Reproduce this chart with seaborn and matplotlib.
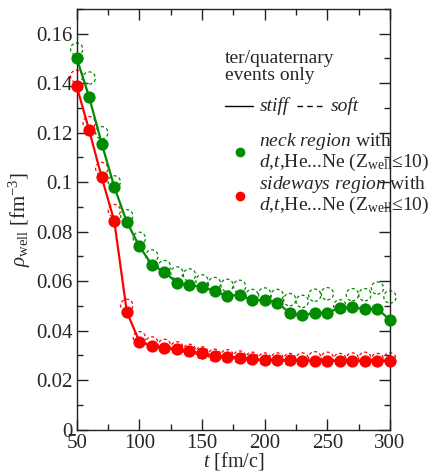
import numpy as np
import pandas as pd
import matplotlib
matplotlib.use("Agg")
import matplotlib.pyplot as plt
import seaborn as sns

# time steps [fm/c]
t = list(range(50, 301, 10))

# well density, neck region (stiff / soft)
neck_stiff = [0.1502, 0.1343, 0.1156, 0.0981, 0.0839, 0.0741, 0.0666, 0.0637, 0.0593, 0.0583,
              0.0577, 0.0559, 0.0540, 0.0545, 0.0522, 0.0524, 0.0512, 0.0472, 0.0461, 0.0472,
              0.0472, 0.0492, 0.0496, 0.0486, 0.0489, 0.0442]
neck_soft = [0.1538, 0.1421, 0.1200, 0.1001, 0.0864, 0.0773, 0.0702, 0.0659, 0.0633, 0.0625,
             0.0601, 0.0590, 0.0583, 0.0579, 0.0542, 0.0548, 0.0542, 0.0525, 0.0518, 0.0543,
             0.0549, 0.0500, 0.0545, 0.0545, 0.0572, 0.0536]

# well density, sideways region (stiff / soft)
side_stiff = [0.1388, 0.1209, 0.1019, 0.0843, 0.0476, 0.0355, 0.0339, 0.0328, 0.0324, 0.0317,
              0.0308, 0.0299, 0.0295, 0.0291, 0.0285, 0.0281, 0.0281, 0.0280, 0.0279, 0.0278,
              0.0278, 0.0277, 0.0277, 0.0277, 0.0278, 0.0277]
side_soft = [0.1428, 0.1240, 0.1055, 0.0885, 0.0502, 0.0371, 0.0350, 0.0340, 0.0330, 0.0320,
             0.0310, 0.0300, 0.0298, 0.0293, 0.0288, 0.0285, 0.0285, 0.0283, 0.0285, 0.0290,
             0.0288, 0.0283, 0.0285, 0.0288, 0.0283, 0.0285]

x_ticks = [50, 100, 150, 200, 250, 300]
y_ticks = [0, 0.02, 0.04, 0.06, 0.08, 0.1, 0.12, 0.14, 0.16]
y_tick_labels = ["0", "0.02", "0.04", "0.06", "0.08", "0.1", "0.12", "0.14", "0.16"]

GREEN = "#008b00"
RED = "#ff0000"

sns.set_style("ticks")
plt.rcParams["font.family"] = ["Liberation Serif", "DejaVu Serif"]
plt.rcParams["mathtext.fontset"] = "custom"
plt.rcParams["mathtext.rm"] = "Liberation Serif"
plt.rcParams["mathtext.it"] = "Liberation Serif:italic"
plt.rcParams["mathtext.bf"] = "Liberation Serif:bold"

df = pd.DataFrame({"t": t, "neck_stiff": neck_stiff, "neck_soft": neck_soft,
                   "side_stiff": side_stiff, "side_soft": side_soft})

fig = plt.figure(figsize=(4.44, 4.72), dpi=100)
ax = fig.add_axes([0.1727, 0.0900, 0.7056, 0.8909])

# soft EoS: dashed open circles
for col, c in [("neck_soft", GREEN), ("side_soft", RED)]:
    sns.scatterplot(data=df, x="t", y=col, ax=ax, s=78, facecolors="none",
                    edgecolors=c, linestyle=(0, (2.5, 2)), linewidths=0.9, zorder=2,
                    legend=False, clip_on=False)

# stiff EoS: solid lines with filled circles
for col, c in [("neck_stiff", GREEN), ("side_stiff", RED)]:
    sns.lineplot(data=df, x="t", y=col, ax=ax, color=c, linewidth=1.6,
                 marker="o", markersize=8.8, markeredgewidth=0, zorder=3,
                 legend=False, clip_on=False)

ax.set_xlim(50, 300)
ax.set_ylim(0, 0.17)
ax.set_xticks(x_ticks)
ax.set_xticks(np.arange(50, 301, 25), minor=True)
ax.set_yticks(y_ticks)
ax.set_yticklabels(y_tick_labels)
ax.set_yticks(np.arange(0, 0.171, 0.01), minor=True)
ax.tick_params(which="both", direction="in", top=True, right=True,
               labelsize=15, color="#222222", pad=3)
ax.tick_params(which="major", length=8, width=1.0)
ax.tick_params(which="minor", length=4, width=1.0)
for s in ax.spines.values():
    s.set_linewidth(1.0)
    s.set_color("#222222")

ax.set_xlabel(r"$t$ [fm/c]", fontsize=14.5, labelpad=-2)
ax.set_ylabel(r"$\rho_{\rm well}$ [fm$^{-3}$]", fontsize=15, labelpad=2)

# key
tr = ax.transAxes
fs = 14
ax.text(0.473, 0.883, "ter/quaternary", transform=tr, fontsize=fs, va="center")
ax.text(0.473, 0.843, "events only", transform=tr, fontsize=fs, va="center")
ax.plot([0.473, 0.562], [0.77, 0.77], transform=tr, color="black", lw=1.0, clip_on=False)
ax.text(0.585, 0.77, "stiff", transform=tr, fontsize=fs, style="italic", va="center")
ax.plot([0.703, 0.792], [0.77, 0.77], transform=tr, color="black", lw=1.0,
        linestyle=(0, (4, 3)), clip_on=False)
ax.text(0.812, 0.77, "soft", transform=tr, fontsize=fs, style="italic", va="center")

ax.plot([0.522], [0.660], transform=tr, marker="o", ms=7, color=GREEN, mew=0, clip_on=False)
ax.text(0.583, 0.684, r"$\mathit{neck\ region}$ with", transform=tr, fontsize=fs, va="center")
ax.text(0.583, 0.636, r"$d$,$t$,He...Ne (Z$_{\rm well}$≤10)", transform=tr, fontsize=fs, va="center")

ax.plot([0.522], [0.555], transform=tr, marker="o", ms=7, color=RED, mew=0, clip_on=False)
ax.text(0.583, 0.583, r"$\mathit{sideways\ region}$ with", transform=tr, fontsize=fs, va="center")
ax.text(0.583, 0.534, r"$d$,$t$,He...Ne (Z$_{\rm well}$≤10)", transform=tr, fontsize=fs, va="center")

fig.savefig("out.png", dpi=100)
